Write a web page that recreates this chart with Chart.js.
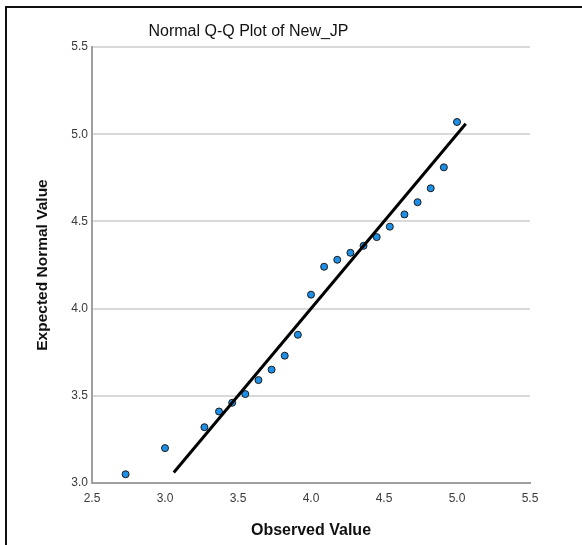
<!DOCTYPE html>
<html>
<head>
<meta charset="utf-8">
<script src="https://cdn.jsdelivr.net/npm/chart.js@4"></script>
<style>
    body { margin: 0; background: #fff; }
    #wrap { position: relative; width: 582px; height: 545px; }
    #frame {
        position: absolute; left: 5px; top: 6px; right: 0; bottom: 0;
        border-left: 2px solid #111; border-top: 2px solid #111;
        pointer-events: none;
    }
</style>
</head>
<body>
<div id="wrap">
    <canvas id="chart1" width="582" height="545"></canvas>
    <div id="frame"></div>
</div>
<script>
// observed vs expected normal values
var observedValues = [2.73, 3.00, 3.27, 3.37, 3.46, 3.55, 3.64, 3.73, 3.82, 3.91, 4.00,
                      4.09, 4.18, 4.27, 4.36, 4.45, 4.54, 4.64, 4.73, 4.82, 4.91, 5.00]
var expectedValues = [3.05, 3.20, 3.32, 3.41, 3.46, 3.51, 3.59, 3.65, 3.73, 3.85, 4.08,
                      4.24, 4.28, 4.32, 4.36, 4.41, 4.47, 4.54, 4.61, 4.69, 4.81, 5.07]

// reference line ends
var lineX = [3.06, 5.06]
var lineY = [3.06, 5.06]

var chartTitle = 'Normal Q-Q Plot of New_JP'
var xTitle = 'Observed Value'
var yTitle = 'Expected Normal Value'

Chart.defaults.font.family = '"Liberation Sans", Arial, sans-serif';

var points = observedValues.map(function(v, i) {
    return { x: v, y: expectedValues[i] };
});
var linePoints = lineX.map(function(v, i) {
    return { x: v, y: lineY[i] };
});

// title sits left of the plot centre, so draw it by hand
var titlePlugin = {
    id: 'titlePlugin',
    afterDraw: function(chart) {
        var ctx = chart.ctx;
        ctx.save();
        ctx.font = '16px "Liberation Sans", Arial, sans-serif';
        ctx.fillStyle = '#111';
        ctx.textAlign = 'center';
        ctx.textBaseline = 'middle';
        ctx.fillText(chartTitle, 248.5, 32);
        ctx.restore();
    }
};

var configChart1 = {
    type: 'scatter',
    data: {
        datasets: [
            {
                label: 'Line',
                data: linePoints,
                showLine: true,
                borderColor: '#000',
                borderWidth: 3,
                pointRadius: 0
            },
            {
                label: 'New_JP',
                data: points,
                backgroundColor: '#1e8fe6',
                borderColor: '#1a1a1a',
                borderWidth: 1,
                pointRadius: 3.5
            }
        ]
    },
    options: {
        responsive: false,
        animation: false,
        layout: {
            padding: { top: 47, left: 33, right: 52, bottom: 5 }
        },
        scales: {
            x: {
                type: 'linear',
                min: 2.5,
                max: 5.5,
                grid: { display: false, drawTicks: false },
                border: { color: '#a0a0a0', width: 2 },
                ticks: {
                    stepSize: 0.5,
                    padding: 8,
                    color: '#3a3a3a',
                    font: { size: 12 },
                    callback: function(value) { return value.toFixed(1); }
                },
                title: {
                    display: true,
                    text: xTitle,
                    color: '#111',
                    padding: 0,
                    font: { size: 16, weight: 'bold', lineHeight: 1.2 }
                },
                afterFit: function(scale) { scale.height = 57; }
            },
            y: {
                min: 3.0,
                max: 5.5,
                grid: { color: '#d9d9d9', lineWidth: 2, drawTicks: false },
                border: { color: '#a0a0a0', width: 2 },
                ticks: {
                    stepSize: 0.5,
                    padding: 4,
                    color: '#3a3a3a',
                    font: { size: 12 },
                    callback: function(value) { return value.toFixed(1); }
                },
                title: {
                    display: true,
                    text: yTitle,
                    color: '#111',
                    padding: 0,
                    font: { size: 15.5, weight: 'bold', lineHeight: 1.2 }
                },
                afterFit: function(scale) { scale.width = 59; }
            }
        },
        plugins: {
            legend: { display: false },
            tooltip: { enabled: false }
        }
    },
    plugins: [titlePlugin]
};

var chart1 = new Chart(
    document.getElementById('chart1'),
    configChart1
);
</script>
</body>
</html>
